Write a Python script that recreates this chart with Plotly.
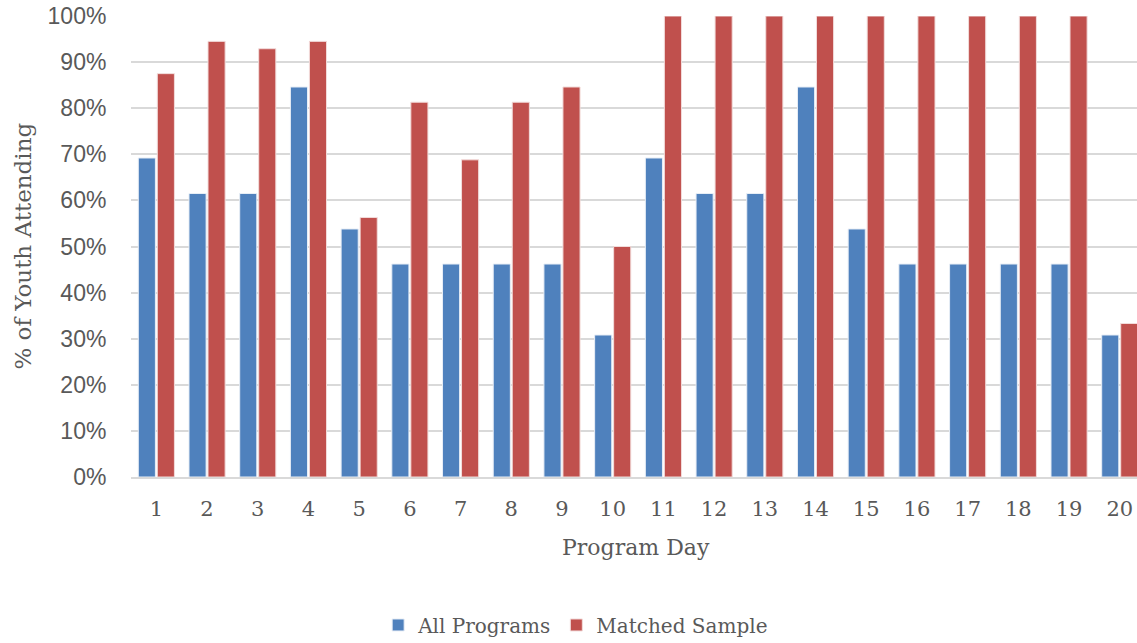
import plotly.graph_objects as go

days = [str(i) for i in range(1, 21)]
all_programs = [69.2, 61.5, 61.5, 84.6, 53.8, 46.2, 46.2, 46.2, 46.2, 30.8,
                69.2, 61.5, 61.5, 84.6, 53.8, 46.2, 46.2, 46.2, 46.2, 30.8]
matched_sample = [87.5, 94.5, 92.9, 94.5, 56.3, 81.3, 68.8, 81.3, 84.6, 50.0,
                  100, 100, 100, 100, 100, 100, 100, 100, 100, 33.3]

x_idx = list(range(1, 21))

fig = go.Figure()
fig.add_trace(go.Bar(x=x_idx, y=all_programs, name="All Programs",
                     marker=dict(color="#4F81BD", line=dict(color="#E8EEF6", width=1))))
fig.add_trace(go.Bar(x=x_idx, y=matched_sample, name="Matched Sample",
                     marker=dict(color="#C0504D", line=dict(color="#F2DCDB", width=1))))

serif = "DejaVu Serif, Liberation Serif, serif"
grey = "#595959"
fig.update_layout(
    width=1137, height=643,
    margin=dict(l=131, r=0, t=16, b=166, autoexpand=False),
    paper_bgcolor="white", plot_bgcolor="white",
    barmode="group", bargap=0.25, bargroupgap=0.1,
    showlegend=True,
    legend=dict(orientation="h", x=0.442, xanchor="center", y=-0.321, yanchor="middle",
                font=dict(family=serif, size=20, color=grey),
                itemwidth=30, traceorder="normal"),
    xaxis=dict(tickmode="array", tickvals=x_idx, ticktext=days,
               range=[0.5, 20.34], automargin=False, ticklabeloverflow="allow",
               tickfont=dict(family=serif, size=21, color=grey),
               showgrid=False, showline=True, linecolor="#D9D9D9", linewidth=1.5,
               ticks="outside", ticklen=12, tickcolor="rgba(0,0,0,0)"),
    yaxis=dict(range=[0, 100], dtick=10, ticksuffix="%", automargin=False,
               ticklabeloverflow="allow",
               tickfont=dict(family="Liberation Sans, Arial, sans-serif", size=23, color=grey),
               showgrid=True, gridcolor="#D9D9D9", gridwidth=1.5,
               zeroline=False,
               ticks="outside", ticklen=19, tickcolor="rgba(0,0,0,0)"),
    annotations=[
        dict(text="Program Day", xref="paper", yref="paper", x=0.502, y=-0.152,
             xanchor="center", yanchor="middle", showarrow=False,
             font=dict(family=serif, size=22, color=grey)),
        dict(text="% of Youth Attending", xref="paper", yref="paper", x=-0.1083, y=0.5,
             xanchor="center", yanchor="middle", showarrow=False, textangle=-90,
             font=dict(family=serif, size=23, color=grey)),
    ],
)

fig.write_html("out.html", config={"displayModeBar": False},
               post_script="document.body.style.margin='0';document.body.style.overflow='hidden';")
